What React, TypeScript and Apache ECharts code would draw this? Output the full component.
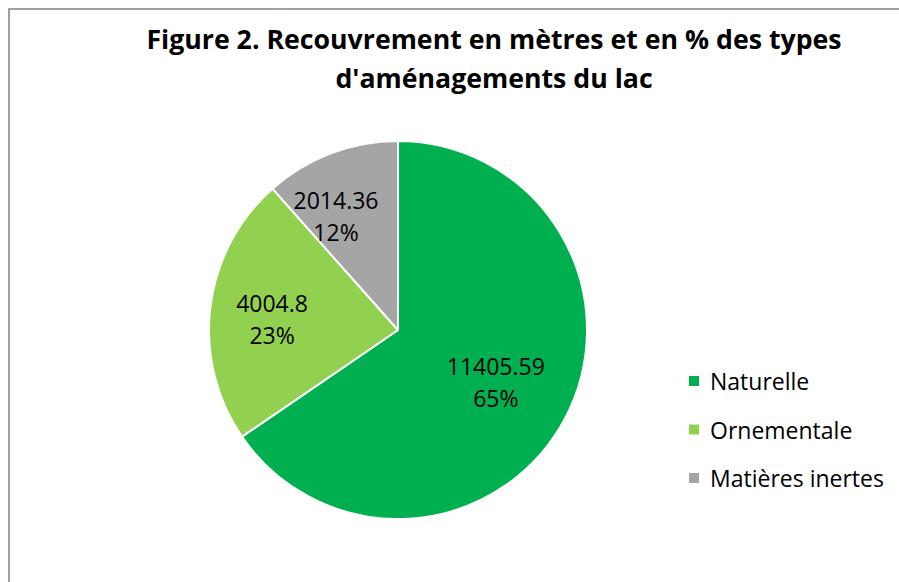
import React, { useEffect, useRef } from 'react';
import * as echarts from 'echarts';

const categories = ['Naturelle', 'Ornementale', 'Matières inertes'];
const values = [11405.59, 4004.8, 2014.36];
const colors = ['#00B050', '#92D050', '#A5A5A5'];
const titleLines = ['Figure 2. Recouvrement en mètres et en % des types', "d'aménagements du lac"];

const FONT = "'Open Sans', 'Noto Sans', sans-serif";
const CX = 398;
const CY = 330;
const R = 189;
const labelRadius = [0.585, 0.669, 0.687];
const labelAngleShift = [0, -2, -7.7];

export default function App() {
  const ref = useRef<HTMLDivElement>(null);
  useEffect(() => {
    const chart = echarts.init(ref.current!, null, { renderer: 'svg' });
    const total = values.reduce((a, b) => a + b, 0);
    const mids: number[] = [];
    let acc = 0;
    values.forEach((v) => {
      mids.push(((acc + v / 2) / total) * 360);
      acc += v;
    });
    const titleStyle = {
      fontFamily: FONT,
      fontSize: 26.7,
      fontWeight: 'bold',
      fill: '#000',
      align: 'center',
      verticalAlign: 'middle',
    };
    chart.setOption({
      animation: false,
      backgroundColor: '#ffffff',
      graphic: [
        {
          type: 'rect',
          silent: true,
          z: -1,
          shape: { x: 9, y: 9, width: 1000, height: 1000 },
          style: { fill: 'none', stroke: '#A0A0A0', lineWidth: 2 },
        },
        {
          type: 'text',
          x: 494,
          y: 38,
          style: { ...titleStyle, text: titleLines[0] },
        },
        {
          type: 'text',
          x: 494,
          y: 77,
          style: { ...titleStyle, text: titleLines[1] },
        },
      ],
      legend: {
        orient: 'vertical',
        left: 687,
        top: 369,
        padding: 0,
        icon: 'rect',
        itemWidth: 12,
        itemHeight: 12,
        itemGap: 24.5,
        selectedMode: false,
        data: categories,
        textStyle: {
          fontFamily: FONT,
          fontSize: 23,
          lineHeight: 24,
          color: '#000',
          padding: [0, 0, 0, 5],
        },
      },
      series: [
        {
          type: 'pie',
          center: [CX, CY],
          radius: R,
          startAngle: 90,
          clockwise: true,
          percentPrecision: 0,
          avoidLabelOverlap: false,
          emphasis: { disabled: true },
          itemStyle: {
            borderColor: '#ffffff',
            borderWidth: 2,
          },
          label: {
            show: true,
            position: 'inside',
            formatter: '{c}\n{d}%',
            fontFamily: FONT,
            fontSize: 23,
            lineHeight: 32,
            color: '#000',
            align: 'center',
            verticalAlign: 'middle',
          },
          labelLine: { show: false },
          labelLayout: (p: any) => {
            const i = p.dataIndex;
            const a = ((mids[i] + labelAngleShift[i]) * Math.PI) / 180;
            const r = R * labelRadius[i];
            return {
              x: CX + r * Math.sin(a),
              y: CY - r * Math.cos(a),
              align: 'center',
              verticalAlign: 'middle',
            };
          },
          data: categories.map((name, i) => ({
            name,
            value: values[i],
            itemStyle: { color: colors[i] },
          })),
        },
      ],
    });
    return () => chart.dispose();
  }, []);
  return (
    <div
      ref={ref}
      style={{ position: 'fixed', left: 0, top: 0, width: 899, height: 582 }}
    />
  );
}
